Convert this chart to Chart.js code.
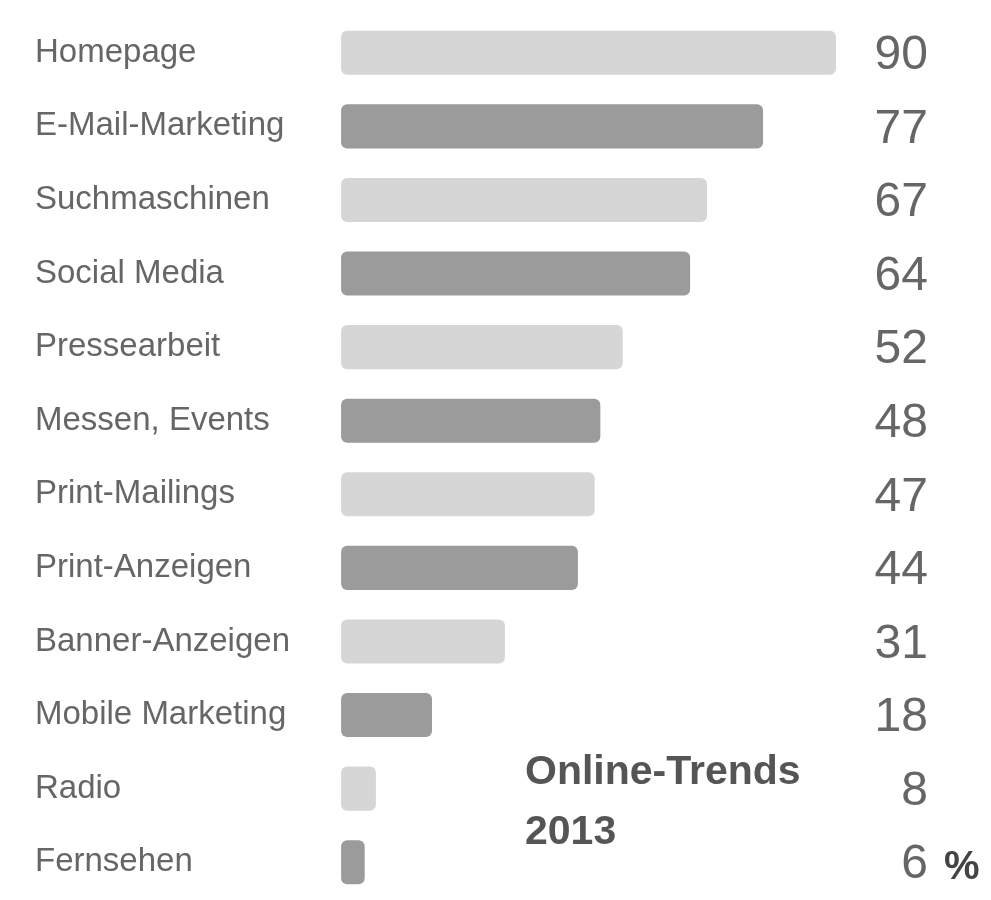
<!DOCTYPE html>
<html>
<head>
<meta charset="utf-8">
<script src="https://cdn.jsdelivr.net/npm/chart.js@4"></script>
<style>
  html, body { margin: 0; padding: 0; background: #fff; }
  #wrap { width: 991px; height: 900px; position: relative; }
</style>
</head>
<body>
<div id="wrap"><canvas id="chart" width="991" height="900"></canvas></div>
<script>
const categories = ['Homepage', 'E-Mail-Marketing', 'Suchmaschinen', 'Social Media', 'Pressearbeit',
  'Messen, Events', 'Print-Mailings', 'Print-Anzeigen', 'Banner-Anzeigen', 'Mobile Marketing',
  'Radio', 'Fernsehen'];
const values = [90, 77, 67, 64, 52, 48, 47, 44, 31, 18, 8, 6];
const barColors = categories.map((c, i) => i % 2 === 0 ? '#d6d6d6' : '#9b9b9b');

const labelPlugin = {
  id: 'labels',
  afterDatasetsDraw(chart) {
    const ctx = chart.ctx;
    const meta = chart.getDatasetMeta(0);
    ctx.save();
    ctx.textBaseline = 'middle';
    meta.data.forEach((bar, i) => {
      ctx.fillStyle = '#666';
      ctx.font = '33px "Liberation Sans", Arial, sans-serif';
      ctx.textAlign = 'left';
      ctx.fillText(categories[i], 35, bar.y);
      ctx.font = '48px "Liberation Sans", Arial, sans-serif';
      ctx.textAlign = 'right';
      ctx.fillText(values[i], 928, bar.y + 3);
    });
    const last = meta.data[meta.data.length - 1];
    ctx.textAlign = 'left';
    ctx.fillStyle = '#444';
    ctx.font = 'bold 40px "Liberation Sans", Arial, sans-serif';
    ctx.fillText('%', 944, last.y + 6);
    ctx.fillStyle = '#555';
    ctx.font = 'bold 41px "Liberation Sans", Arial, sans-serif';
    ctx.fillText('Online-Trends', 525, 773);
    ctx.fillText('2013', 525, 833);
    ctx.restore();
  }
};

new Chart(document.getElementById('chart'), {
  type: 'bar',
  data: {
    labels: categories,
    datasets: [{
      data: values,
      base: 1.8,
      backgroundColor: barColors,
      borderRadius: 6,
      borderSkipped: false,
      categoryPercentage: 1,
      barPercentage: 0.6
    }]
  },
  options: {
    indexAxis: 'y',
    responsive: false,
    animation: false,
    layout: { padding: { left: 331, right: 155, top: 16, bottom: 1 } },
    plugins: { legend: { display: false }, tooltip: { enabled: false } },
    scales: {
      x: { min: 0, max: 90, display: false },
      y: { display: false }
    }
  },
  plugins: [labelPlugin]
});
</script>
</body>
</html>
